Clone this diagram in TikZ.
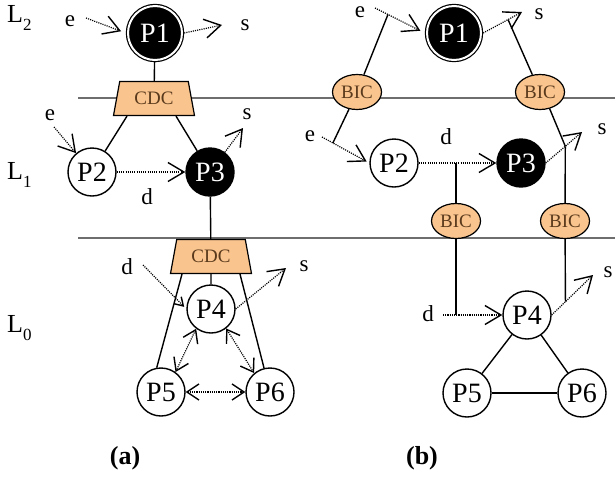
\documentclass[tikz,border=0pt]{standalone}
\usepackage{fontspec}
\setmainfont{Liberation Serif}
\usetikzlibrary{arrows.meta,shapes.geometric,calc}
\definecolor{cdcfill}{RGB}{249,196,142}
\definecolor{cdctext}{RGB}{90,58,28}
\definecolor{layergray}{RGB}{110,110,110}
\begin{document}
\begin{tikzpicture}[x=1pt,y=-1pt,
  proc/.style={circle,draw=black,line width=1.4pt,fill=white,minimum size=48pt,inner sep=0pt,font=\fontsize{28}{30}\selectfont},
  blackproc/.style={proc,fill=black,text=white},
  topproc/.style={circle,draw=black,line width=1.2pt,double=white,double distance=2pt,fill=black,text=white,minimum size=54pt,inner sep=0pt,outer sep=2.2pt,font=\fontsize{28}{30}\selectfont},
  cdc/.style={trapezium,trapezium angle=64,trapezium stretches body,draw=black,line width=1.2pt,fill=cdcfill,text=cdctext,minimum width=81pt,minimum height=34pt,inner sep=0pt,font=\fontsize{19}{20}\selectfont},
  bic/.style={ellipse,draw=black,line width=1.2pt,fill=cdcfill,text=cdctext,minimum width=49pt,minimum height=35pt,inner sep=0pt,font=\fontsize{19}{20}\selectfont},
  lab/.style={inner sep=0pt,font=\fontsize{23}{25}\selectfont},
  lvl/.style={inner sep=0pt,anchor=west,font=\fontsize{26}{28}\selectfont},
  capt/.style={inner sep=0pt,font=\fontsize{26}{28}\selectfont\bfseries},
  conn/.style={line width=1.4pt},
  layerline/.style={line width=1.4pt,draw=layergray},
  darr/.style={line width=1.2pt,dash pattern=on 1.1pt off 1.1pt,-{Straight Barb[length=16pt,width=19pt,line width=1.4pt]}},
  smallarr/.style={line width=1.2pt,dash pattern=on 1.1pt off 1.1pt,-{Straight Barb[length=8pt,width=10pt,line width=1.4pt]}},
  ddarr/.style={line width=1.2pt,dash pattern=on 1.1pt off 1.1pt,{Straight Barb[length=12pt,width=16pt,line width=1.4pt]}-{Straight Barb[length=12pt,width=16pt,line width=1.4pt]}}
]
\useasboundingbox (0,0) rectangle (615,480);
% layer lines
\draw[layerline] (78,98) -- (615,98);
\draw[layerline] (78,238) -- (615,238);
% level labels
\node[lvl] (L2) at (7,18) {L\raisebox{-0.3em}{\fontsize{17}{17}\selectfont 2}};
\node[lvl] (L1) at (7,175) {L\raisebox{-0.3em}{\fontsize{17}{17}\selectfont 1}};
\node[lvl] (L0) at (7,328) {L\raisebox{-0.3em}{\fontsize{17}{17}\selectfont 0}};

% ---------- (a) ----------
\node[topproc] (P1a) at (155,33) {P1};
\node[cdc] (CDC1) at (154,98.5) {CDC};
\node[proc] (P2a) at (92,172) {P2};
\node[blackproc] (P3a) at (210,172) {P3};
\node[cdc] (CDC2) at (211,256.5) {CDC};
\node[proc] (P4a) at (211,309) {P4};
\node[proc] (P5a) at (161,392) {P5};
\node[proc] (P6a) at (270,392) {P6};

\node[lab] (ea1) at (70,21) {e};
\node[lab] (sa1) at (245,25) {s};
\node[lab] (ea2) at (50,115) {e};
\node[lab] (sa3) at (247,114) {s};
\node[lab] (da3) at (147,197) {d};
\node[lab] (da4) at (127,267) {d};
\node[lab] (sa4) at (304,266) {s};
\node[capt] (capa) at (125,458) {(a)};

\coordinate (ea1s) at (86,18);
\coordinate (sa1t) at (222,25);
\coordinate (ea2s) at (54,127);
\coordinate (sa3t) at (243,128);
\coordinate (da4s) at (143,265);
\coordinate (sa4t) at (286,268);

\draw[darr,shorten >=5pt] (ea1s) -- (P1a.west);
\draw[darr] (P1a.east) -- (sa1t);
\draw[conn] (P1a) -- (CDC1);
\draw[conn] ($(CDC1.south)+(-27,0)$) -- (P2a);
\draw[conn] ($(CDC1.south)+(22,0)$) -- (P3a);
\draw[darr] (ea2s) -- (P2a);
\draw[darr] (P2a) -- (P3a);
\draw[darr] (P3a) -- (sa3t);
\draw[conn] (P3a) -- (CDC2);
\draw[conn] (CDC2) -- (P4a);
\draw[conn] ($(CDC2.south)+(-29,0)$) -- (P5a.100);
\draw[conn] ($(CDC2.south)+(29,0)$) -- (P6a.104);
\draw[smallarr,shorten >=3pt] (da4s) -- (P4a.west);
\draw[darr] (P4a.east) -- (sa4t);
\draw[ddarr] (P4a.233) -- (P5a.54);
\draw[ddarr] (P4a.308) -- (P6a.130);
\draw[ddarr] (P5a) -- (P6a);

% ---------- (b) ----------
\node[topproc] (P1b) at (454,33) {P1};
\node[bic] (BIC1) at (357,92) {BIC};
\node[bic] (BIC2) at (540,92) {BIC};
\node[proc] (P2b) at (394,163) {P2};
\node[blackproc] (P3b) at (521,163) {P3};
\node[bic] (BIC3) at (456,221) {BIC};
\node[bic] (BIC4) at (565,221) {BIC};
\node[proc] (P4b) at (527,315) {P4};
\node[proc] (P5b) at (467,393) {P5};
\node[proc] (P6b) at (582,393) {P6};

\node[lab] (eb1) at (360,12) {e};
\node[lab] (sb1) at (539,14) {s};
\node[lab] (eb2) at (310,136) {e};
\node[lab] (db3) at (446,137) {d};
\node[lab] (sb3) at (602,129) {s};
\node[lab] (db4) at (428,314) {d};
\node[lab] (sb4) at (608,272) {s};
\node[capt] (capb) at (422,458) {(b)};

\coordinate (eb1s) at (375,8);
\coordinate (sb1t) at (522,12);
\coordinate (eb2s) at (322,137);
\coordinate (sb3t) at (582,132);
\coordinate (db4s) at (443,315);
\coordinate (sb4t) at (593,275);

\coordinate (jb1) at ($(eb1s)!0.26!(P1b.west)$);
\coordinate (jb2) at ($(P1b.east)!0.64!(sb1t)$);
\coordinate (jb3) at ($(eb2s)!0.23!(P2b.west)$);
\coordinate (jb4) at (BIC3 |- P2b);
\coordinate (jb5) at ($(P3b.east)!0.54!(sb3t)$);
\coordinate (jb6) at (BIC3 |- P4b);
\coordinate (jb7) at ($(P4b.east)!0.333!(sb4t)$);

\draw[darr,shorten >=5pt] (eb1s) -- (P1b.west);
\draw[conn] (BIC1) -- (jb1);
\draw[darr] (P1b.east) -- (sb1t);
\draw[conn] (BIC2) -- (jb2);
\draw[conn] (BIC1.245) -- (jb3);
\draw[darr,shorten >=3pt] (eb2s) -- (P2b.west);
\draw[darr] (P2b) -- (P3b);
\draw[conn] (BIC3) -- (jb4);
\draw[darr] (P3b.east) -- (sb3t);
\draw[conn] (BIC2.300) -- (jb5);
\draw[conn] (BIC4) -- (jb5);
\draw[conn] (BIC3) -- (jb6);
\draw[darr] (db4s) -- (P4b);
\draw[conn] (BIC4) -- (jb7);
\draw[darr] (P4b.east) -- (sb4t);
\draw[conn] (P4b) -- (P5b);
\draw[conn] (P4b) -- (P6b);
\draw[conn] (P5b) -- (P6b);
\end{tikzpicture}
\end{document}
